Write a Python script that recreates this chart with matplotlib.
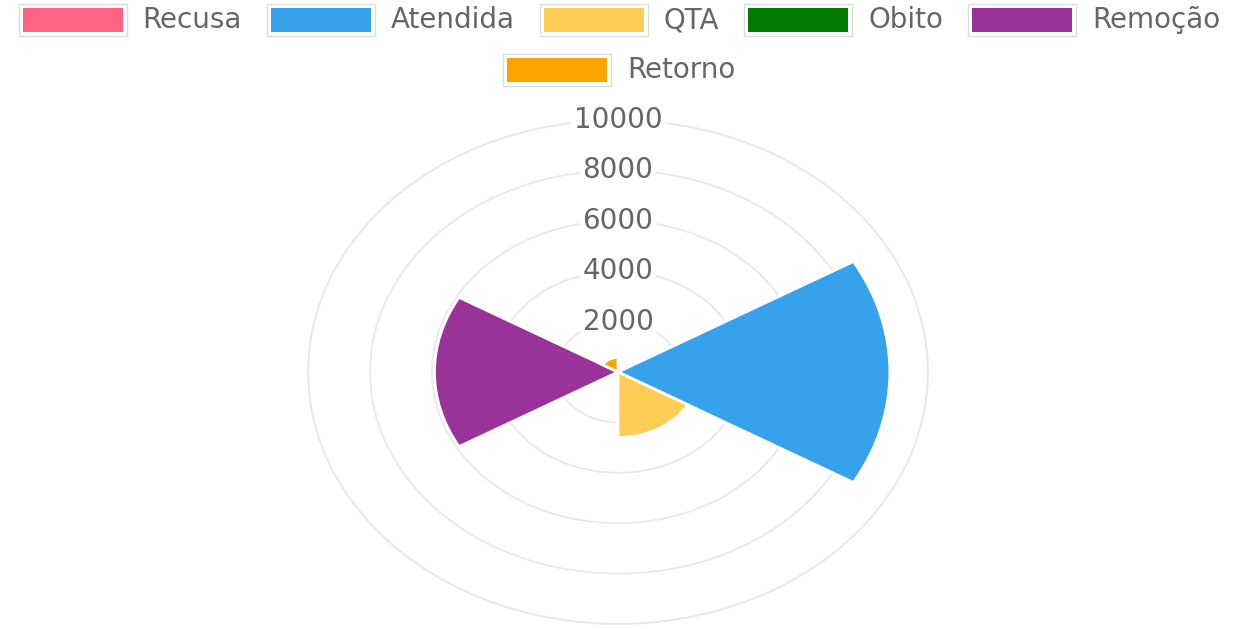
import numpy as np
import matplotlib.pyplot as plt
from matplotlib.patches import Rectangle

labels = ["Recusa", "Atendida", "QTA", "Obito", "Remoção", "Retorno"]
values = [0, 8770, 2600, 0, 5920, 580]
colors = ["#ff6384", "#36a2eb", "#ffcd56", "#007a00", "#993399", "#ffa500"]
r_ticks = [2000, 4000, 6000, 8000, 10000]

plt.rcParams['font.family'] = ['DejaVu Sans']
W, H = 1243, 629
fig = plt.figure(figsize=(W / 100, H / 100), dpi=100)

# polar area, stretched horizontally like the reference
ax = fig.add_axes([(618 - 310) / W, 5 / H, 620 / W, 504 / H], projection='polar')
ax.set_aspect('auto')
ax.set_theta_zero_location('N')
ax.set_theta_direction(-1)
n = len(values)
width = 2 * np.pi / n
theta = np.arange(n) * width
ax.bar(theta, values, width=width, align='edge', color=colors,
       edgecolor='white', linewidth=2, zorder=2)
ax.set_ylim(0, r_ticks[-1])
ax.set_yticks(r_ticks)
ax.set_yticklabels([])
ax.set_xticks([])
ax.set_axisbelow(True)
ax.yaxis.grid(True, color='#e8e8e8', lw=1.3)
ax.spines['polar'].set_color('#e8e8e8')
ax.spines['polar'].set_linewidth(1.3)
for t in r_ticks:
    ax.text(0, t, str(t), ha='center', va='center', fontsize=20, color='#666666',
            bbox=dict(facecolor='white', edgecolor='none', pad=2), zorder=3)

# legend, centered rows like chart.js
fs = 20
box_w, box_h = 100, 24
gap_txt = 20
gap_item = 29
rows = [list(range(5)), [5]]
row_y = [20, 70]
renderer = fig.canvas.get_renderer()
for row, yc in zip(rows, row_y):
    texts, widths = [], []
    for i in row:
        t = fig.text(0, 1 - yc / H, labels[i], fontsize=fs, color='#666666',
                     va='center', ha='left')
        w = t.get_window_extent(renderer).width
        texts.append(t)
        widths.append(box_w + gap_txt + w)
    total = sum(widths) + gap_item * (len(row) - 1)
    x = (W - total) / 2
    for i, t, w in zip(row, texts, widths):
        fig.add_artist(Rectangle(((x - 4) / W, 1 - (yc + box_h / 2 + 4) / H),
                                 (box_w + 8) / W, (box_h + 8) / H,
                                 transform=fig.transFigure, facecolor='white',
                                 edgecolor='#dddddd', lw=1))
        fig.add_artist(Rectangle((x / W, 1 - (yc + box_h / 2) / H),
                                 box_w / W, box_h / H,
                                 transform=fig.transFigure, facecolor=colors[i],
                                 edgecolor='none'))
        t.set_x((x + box_w + gap_txt) / W)
        x += w + gap_item

fig.savefig('out.png', dpi=100)
